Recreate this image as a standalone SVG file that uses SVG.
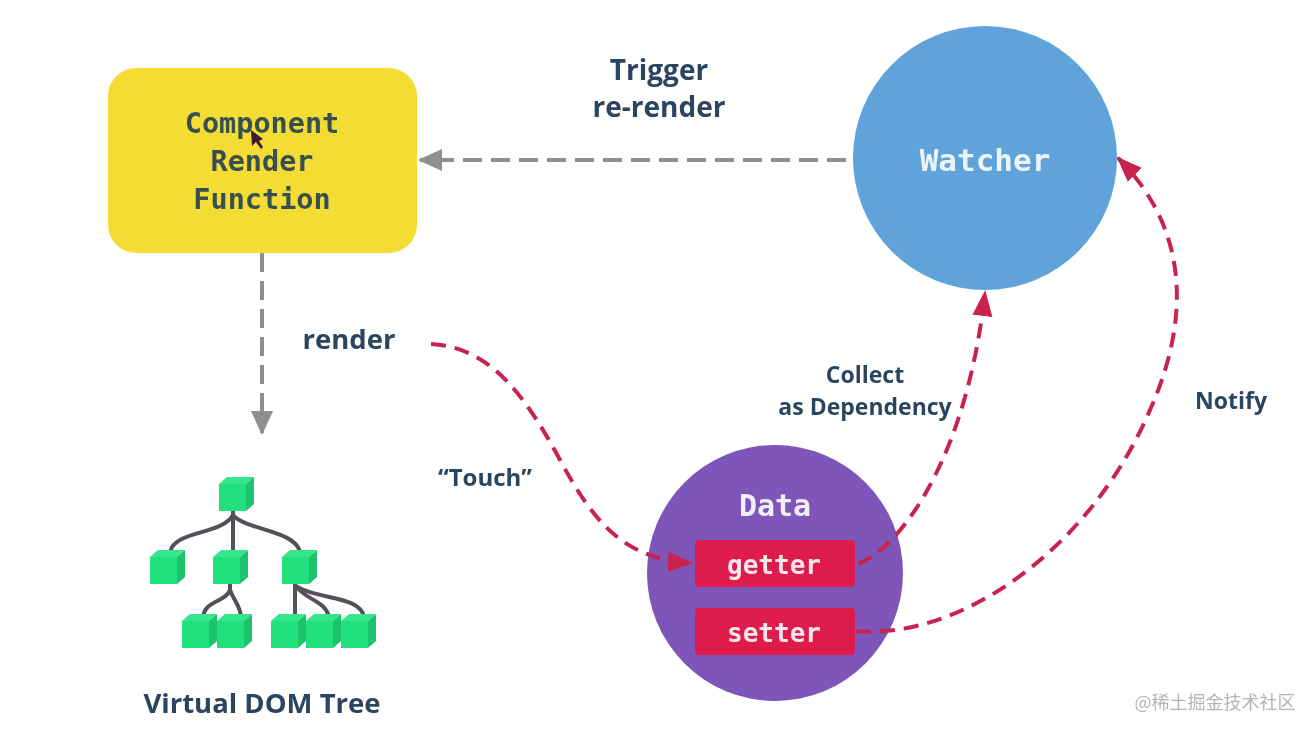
<svg xmlns="http://www.w3.org/2000/svg" width="1316" height="734" viewBox="0 0 1316 734">
<style>
.mono{font-family:"DejaVu Sans Mono","Liberation Mono",monospace;font-weight:700;text-anchor:middle}
.sans{font-family:"Open Sans","Noto Sans","Liberation Sans",sans-serif;font-weight:700;text-anchor:middle;fill:#2c4560}
.gd{fill:none;stroke:#8f8f8f;stroke-width:4;stroke-dasharray:19 9}
.rd{fill:none;stroke:#c8214f;stroke-width:4;stroke-dasharray:15 9}
.tl{fill:none;stroke:#555058;stroke-width:4}
.top{fill:#34e68a}
.fr{fill:#22e07c}
.sd{fill:#1cc26c}
</style>
<defs>
<g id="cube"><path class="fr" d="M-17 -10H10V17H-17Z"/><path class="top" d="M-17 -10L-9 -17H18L10 -10Z"/><path class="sd" d="M10 -10L18 -17V10L10 17Z"/></g>
<marker id="ag" markerUnits="userSpaceOnUse" markerWidth="26" markerHeight="24" refX="22" refY="12" orient="auto"><path d="M0 1L24 12L0 23Z" fill="#8f8f8f"/></marker>
<marker id="ar" markerUnits="userSpaceOnUse" markerWidth="28" markerHeight="24" refX="24" refY="12" orient="auto"><path d="M0 2L26 12L0 22Z" fill="#c8214f"/></marker>
<filter id="soft" x="0" y="0" width="1" height="1"><feGaussianBlur stdDeviation="0.6"/></filter>
</defs>
<rect width="1316" height="734" fill="#fff"/>
<g filter="url(#soft)">
<g id="data"><circle cx="775" cy="573" r="128" fill="#7e55b8"/><text class="mono" x="775" y="516" font-size="30" fill="#f3eef8">Data</text></g>
<g id="connectors">
<path class="gd" d="M846 160H420" marker-end="url(#ag)"/>
<path class="gd" d="M262 253V433" marker-end="url(#ag)"/>
<path class="rd" d="M431 344C490 347 525 395 560 460C590 515 620 560 692 563" marker-end="url(#ar)"/>
<path class="rd" d="M858 564C905 545 968 450 985 292" marker-end="url(#ar)"/>
<path class="rd" d="M856 631C960 640 1090 550 1150 410C1190 320 1190 230 1118 158" marker-end="url(#ar)"/>
<path class="tl" d="M233 510V552M233 515C222 535 175 530 170 552M233 515C245 530 295 530 300 552M230 582V590M230 590C225 603 205 600 203 617M230 590C235 603 240 605 241 617M295 583V617M295 585C305 600 325 600 329 617M295 585C315 600 360 595 364 617"/>
</g>
<g id="component-render"><rect x="108" y="68" width="309" height="185" rx="28" fill="#f5dc36"/>
<text class="mono" x="262" y="133" font-size="28.5" fill="#38504f">Component</text><text class="mono" x="262" y="171" font-size="28.5" fill="#38504f">Render</text><text class="mono" x="262" y="209" font-size="28.5" fill="#38504f">Function</text>
<path d="M251 130L252 146L256 142L261 149L263 147L259 141L263 139Z" fill="#3a1a30"/></g>
<g id="watcher"><circle cx="985" cy="158" r="132" fill="#5fa3da"/><text class="mono" x="985" y="171" font-size="31" fill="#ecf4fb">Watcher</text></g>
<g id="getter"><rect x="695" y="540" width="160" height="47" rx="4" fill="#dd1f4d"/><text class="mono" x="774" y="574" font-size="26" fill="#f8e6ea">getter</text></g>
<g id="setter"><rect x="695" y="608" width="160" height="47" rx="4" fill="#dd1f4d"/><text class="mono" x="774" y="642" font-size="26" fill="#f8e6ea">setter</text></g>
<g id="vdom-tree">
<use href="#cube" x="236" y="494"/><use href="#cube" x="167" y="567"/><use href="#cube" x="230" y="567"/><use href="#cube" x="299" y="567"/>
<use href="#cube" x="199" y="631"/><use href="#cube" x="234" y="631"/><use href="#cube" x="288" y="631"/><use href="#cube" x="323" y="631"/><use href="#cube" x="358" y="631"/>
<text class="sans" x="262" y="713" font-size="27.5">Virtual DOM Tree</text></g>
<g id="labels">
<text class="sans" x="659" y="80" font-size="28">Trigger</text><text class="sans" x="659" y="117" font-size="28">re-render</text>
<text class="sans" x="349" y="349" font-size="27.5">render</text>
<text class="sans" x="485" y="486" font-size="24">“Touch”</text>
<text class="sans" x="865" y="383" font-size="23">Collect</text><text class="sans" x="865" y="415" font-size="23">as Dependency</text>
<text class="sans" x="1231" y="409" font-size="23">Notify</text>
<text x="1215" y="709" font-size="18" text-anchor="middle" fill="#b4b4b4" font-family="'Noto Sans CJK SC','Noto Sans',sans-serif">@稀土掘金技术社区</text>
</g>
</g>
</svg>
